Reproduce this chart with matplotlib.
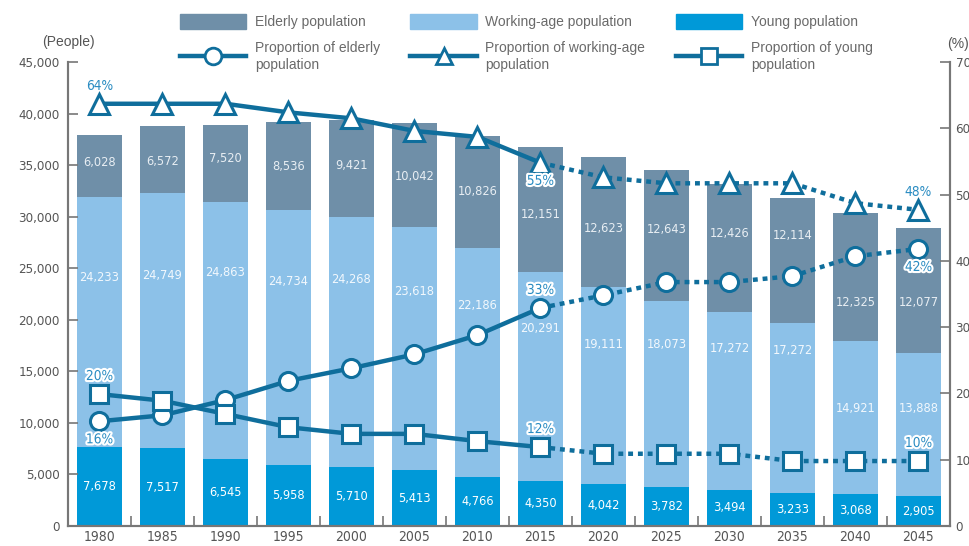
import matplotlib
matplotlib.use("Agg")
import matplotlib.pyplot as plt
import matplotlib.patheffects as pe
from matplotlib.patches import Patch
from matplotlib.lines import Line2D
import numpy as np

# values
years = [1980, 1985, 1990, 1995, 2000, 2005, 2010, 2015,
         2020, 2025, 2030, 2035, 2040, 2045]
young = [7678, 7517, 6545, 5958, 5710, 5413, 4766, 4350,
         4042, 3782, 3494, 3233, 3068, 2905]
working = [24233, 24749, 24863, 24734, 24268, 23618, 22186, 20291,
           19111, 18073, 17272, 16470, 14921, 13888]
# printed labels (2035 is printed as 17,272 in the original)
working_text = ["24,233", "24,749", "24,863", "24,734", "24,268", "23,618", "22,186",
                "20,291", "19,111", "18,073", "17,272", "17,272", "14,921", "13,888"]
elderly = [6028, 6572, 7520, 8536, 9421, 10042, 10826, 12151,
           12623, 12643, 12426, 12114, 12325, 12077]
pct_elderly = [15.8, 16.7, 19.0, 21.9, 23.8, 25.9, 28.8, 32.9,
               34.8, 36.8, 36.8, 37.7, 40.7, 41.8]
pct_working = [63.7, 63.7, 63.7, 62.4, 61.5, 59.6, 58.7, 54.8,
               52.6, 51.7, 51.7, 51.7, 48.7, 47.7]
pct_young = [19.9, 18.9, 16.9, 14.9, 13.9, 13.9, 12.8, 11.9,
             10.9, 10.9, 10.9, 9.8, 9.8, 9.8]
split = 7  # projections (dotted) start from 2015

C_ELD = "#6f8fa8"
C_WRK = "#8cc1e8"
C_YNG = "#0099d8"
C_LINE = "#0f6e9c"
C_PCT = "#2a8cc2"
C_TXT = "#555555"

NUM = dict(fontfamily="DejaVu Sans", fontstretch="condensed")
SANS = "Liberation Sans"

fig = plt.figure(figsize=(9.7, 5.46), dpi=100)
ax = fig.add_axes([68 / 970, 1 - 526 / 546, (950 - 68) / 970, (526 - 62) / 546])

x = np.arange(len(years))
young_a = np.array(young)
work_a = np.array(working)
eld_a = np.array(elderly)
w = 0.73
ax.bar(x, young_a, width=w, color=C_YNG, zorder=1)
ax.bar(x, work_a, width=w, bottom=young_a, color=C_WRK, zorder=1)
ax.bar(x, eld_a, width=w, bottom=young_a + work_a, color=C_ELD, zorder=1)

ax.set_xlim(-0.5, 13.5)
ax.set_ylim(0, 45000)
ax.set_yticks(np.arange(0, 45001, 5000))
ax.set_yticklabels([f"{v:,}" for v in range(0, 45001, 5000)], fontsize=9.5,
                   color=C_TXT, **NUM)
ax.set_xticks(x)
ax.set_xticklabels([str(y) for y in years], fontsize=10, color=C_TXT, **NUM)
ax.set_xticks(x[:-1] + 0.5, minor=True)
ax.tick_params(axis="x", which="major", length=0, pad=3)
ax.tick_params(axis="x", which="minor", direction="in", length=7, color="#777777", width=1.2)
ax.tick_params(axis="y", direction="in", length=7, color="#777777", width=1.2, pad=6)
for s in ["left", "bottom", "right"]:
    ax.spines[s].set_color("#777777")
    ax.spines[s].set_linewidth(1.5)
ax.spines["top"].set_visible(False)

# bar labels
young_lab_y = young_a / 2
work_lab_y = [24080, 24270, 24560, 23690, 23880, 22720, 21360, 19200,
              17570, 17570, 17180, 16990, 11360, 11360]
eld_lab_y = [35240, 35340, 35630, 34850, 34950, 33880, 32430, 30190,
             28830, 28740, 28350, 28160, 21650, 21650]
for i in range(len(years)):
    ax.text(x[i], young_lab_y[i], f"{young[i]:,}", ha="center", va="center",
            color="white", fontsize=9.2, zorder=2, **NUM)
    ax.text(x[i], work_lab_y[i], working_text[i], ha="center", va="center",
            color="#f2f8fd", fontsize=9.2, zorder=2, **NUM)
    ax.text(x[i], eld_lab_y[i], f"{elderly[i]:,}", ha="center", va="center",
            color="#e8eef3", fontsize=9.2, zorder=2, **NUM)

# proportion lines on right axis
ax2 = ax.twinx()
ax2.set_ylim(0, 70)
ax2.set_yticks(np.arange(0, 71, 10))
ax2.set_yticklabels([str(v) for v in range(0, 71, 10)], fontsize=9.5, color=C_TXT, **NUM)
ax2.tick_params(axis="y", direction="in", length=7, color="#777777", width=1.2, pad=4)
for s in ["left", "bottom", "right"]:
    ax2.spines[s].set_color("#777777")
    ax2.spines[s].set_linewidth(1.5)
ax2.spines["top"].set_visible(False)

series = [(pct_elderly, "o", 13), (pct_working, "^", 14), (pct_young, "s", 13)]
for vals, mk, ms in series:
    v = np.array(vals)
    ax2.plot(x[:split + 1], v[:split + 1], color=C_LINE, lw=3.2, solid_capstyle="butt", zorder=3)
    ax2.plot(x[split:], v[split:], color=C_LINE, lw=3.2, linestyle=(0, (1.1, 1.1)),
             dash_capstyle="butt", zorder=3)
    ax2.plot(x, v, linestyle="none", marker=mk, markersize=ms, markerfacecolor="white",
             markeredgecolor=C_LINE, markeredgewidth=2.2, zorder=4)

outline = [pe.withStroke(linewidth=3, foreground="white")]


def pct_label(i, vals, dy, stroke):
    t = ax2.annotate(f"{round(vals[i])}%", (x[i], vals[i]), xytext=(0, dy),
                     textcoords="offset points", ha="center", va="center",
                     color=C_PCT, fontsize=9.8, zorder=5, **NUM)
    if stroke:
        t.set_path_effects(outline)


pct_label(0, pct_working, 13, False)
pct_label(split, pct_working, -13, True)
pct_label(13, pct_working, 13, False)
pct_label(0, pct_elderly, -13, True)
pct_label(split, pct_elderly, 13, True)
pct_label(13, pct_elderly, -13, True)
pct_label(0, pct_young, 13, True)
pct_label(split, pct_young, 13, True)
pct_label(13, pct_young, 13, True)

fig.text(68 / 970, 1 - 42 / 546, "(People)", ha="center", va="center",
         fontsize=10, color=C_TXT, fontfamily=SANS)
fig.text(958 / 970, 1 - 44 / 546, "(%)", ha="center", va="center",
         fontsize=10, color=C_TXT, fontfamily=SANS)


# legend
def lh(mk):
    return Line2D([], [], color=C_LINE, lw=3.2, marker=mk, markersize=12,
                  markerfacecolor="white", markeredgecolor=C_LINE, markeredgewidth=2)


handles = [Patch(color=C_ELD), lh("o"), Patch(color=C_WRK), lh("^"),
           Patch(color=C_YNG), lh("s")]
labels = ["Elderly population", "Proportion of elderly\npopulation",
          "Working-age population", "Proportion of working-age\npopulation",
          "Young population", "Proportion of young\npopulation"]
leg = fig.legend(handles, labels, ncol=3, loc="upper left",
                 bbox_to_anchor=(170 / 970, 1 - 4 / 546), frameon=False,
                 prop={"family": SANS, "size": 10}, handlelength=4.8,
                 handleheight=1.3, handletextpad=0.6, columnspacing=2.2,
                 labelspacing=0.9, borderpad=0.2)
for t in leg.get_texts():
    t.set_color("#6a6a6a")

fig.savefig("out.png", dpi=100)
